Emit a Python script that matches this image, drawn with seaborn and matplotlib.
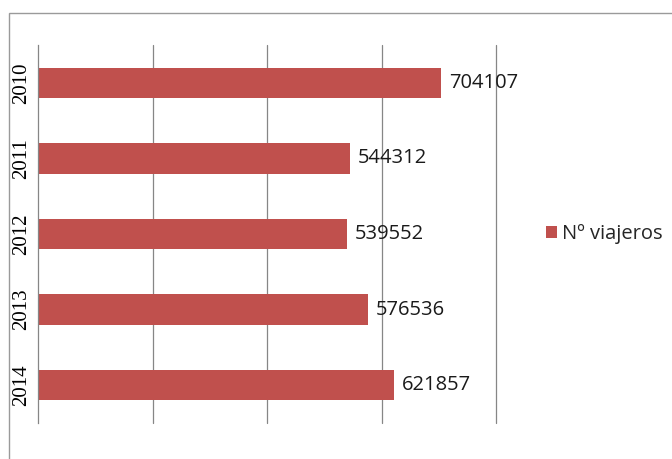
import matplotlib
matplotlib.use("Agg")
import matplotlib.pyplot as plt
import seaborn as sns
import pandas as pd
from matplotlib.patches import Rectangle

years = ["2010", "2011", "2012", "2013", "2014"]
viajeros = [704107, 544312, 539552, 576536, 621857]
series_name = "Nº viajeros"

df = pd.DataFrame({"year": years, "value": viajeros, "serie": series_name})

sns.set_style("white")
plt.rcParams["font.serif"] = ["Liberation Serif", "DejaVu Serif"]
fig = plt.figure(figsize=(6.72, 4.59), dpi=100)
ax = fig.add_axes([38/672, 36/459, (496-38)/672, (423-45)/459])

red = "#C0504D"
grid = "#868686"
sns.barplot(data=df, y="year", x="value", hue="serie", palette=[red],
            orient="h", width=0.4, ax=ax, legend=True, saturation=1,
            linewidth=0)

ax.set_xlim(0, 800000)
ax.set_ylim(4.5, -0.5)
ax.set_xticks([200000, 400000, 600000, 800000])
ax.set_xticklabels([])
ax.tick_params(axis="x", length=0)
ax.xaxis.grid(True, color=grid, linewidth=0.9)
for gl in ax.get_xgridlines():
    gl.set_clip_on(False)
ax.set_axisbelow(True)
ax.set_xlabel("")
ax.set_ylabel("")
for s in ["top", "right", "bottom"]:
    ax.spines[s].set_visible(False)
ax.spines["left"].set_color(grid)
ax.spines["left"].set_linewidth(0.9)

ax.set_yticks(range(len(years)))
ax.set_yticklabels(years, rotation=90, va="center")
ax.tick_params(axis="y", which="major", length=0, pad=5, labelsize=15,
               labelcolor="#000000", labelfontfamily="serif")
ax.set_yticks([i - 0.5 for i in range(len(years) + 1)], minor=True)
ax.tick_params(axis="y", which="minor", length=4, color=grid, width=0.9)

for i, v in enumerate(viajeros):
    ax.text(v + 14000, i, str(v), va="center", ha="left", fontsize=14.5,
            family="Open Sans", color="#1a1a1a")

leg = ax.legend(loc="center left", bbox_to_anchor=((546-38)/458, 0.5),
                frameon=False, prop={"family": "Open Sans", "size": 14.5},
                handlelength=0.55, handleheight=0.55, handletextpad=0.25,
                borderaxespad=0, borderpad=0)

fig.patches.append(Rectangle((9/672, -0.1), 1.0, (459-13)/459 + 0.1, transform=fig.transFigure,
                             fill=False, edgecolor="#9a9a9a", linewidth=1.0))

fig.savefig("out.png", dpi=100)
